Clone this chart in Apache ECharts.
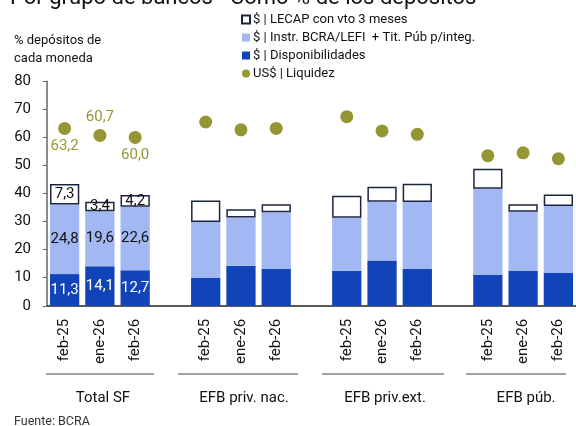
<!DOCTYPE html>
<html>
<head>
<meta charset="utf-8">
<script src="https://cdn.jsdelivr.net/npm/echarts@6/dist/echarts.min.js"></script>
<style>
  html, body { margin: 0; padding: 0; background: #fff; }
  #chart { width: 576px; height: 426px; }
</style>
</head>
<body>
<div id="chart"></div>
<script>
// grupos y periodos
const groups = ['Total SF', 'EFB priv. nac.', 'EFB priv.ext.', 'EFB púb.'];
const periods = ['feb-25', 'ene-26', 'feb-26'];

// valores (% depositos de cada moneda)
const disp  = [[11.3, 14.1, 12.7], [9.9, 14.3, 13.1], [12.5, 16.1, 13.1], [11.0, 12.4, 11.7]];
const instr = [[24.8, 19.6, 22.6], [20.0, 17.2, 20.2], [18.9, 21.0, 23.9], [30.7, 21.1, 23.9]];
const lecap = [[7.3, 3.4, 4.2], [7.6, 2.9, 2.9], [7.8, 5.3, 6.5], [7.1, 2.7, 4.1]];
const usd   = [[63.2, 60.7, 60.0], [65.5, 62.7, 63.2], [67.4, 62.3, 61.1], [53.5, 54.5, 52.4]];

const yTicks = [0, 10, 20, 30, 40, 50, 60, 70, 80];
const usdLabelPos = ['bottom', 'top', 'bottom'];

const FONT = 'Roboto';
const fmt = v => Number(v).toFixed(1).replace('.', ',');

// arma las 15 posiciones (3 por grupo + hueco entre grupos)
function spread(arr, mapFn) {
  const out = [];
  arr.forEach((g, gi) => {
    g.forEach((v, pi) => out.push(mapFn ? mapFn(v, gi, pi) : v));
    if (gi < arr.length - 1) out.push('-');
  });
  return out;
}
const cats = spread(groups.map(() => periods));
const groupCats = spread(groups.map(g => ['', g, '']));

const withLabel = (v, gi) => gi === 0 ? { value: v, label: { show: true } } : v;

var chart = echarts.init(document.getElementById('chart'));
var option = {
  animation: false,
  textStyle: { fontFamily: FONT },
  grid: { left: 47, right: 0, top: 81.3, bottom: 120.2, containLabel: false },
  legend: {
    orient: 'vertical',
    left: 236,
    top: 8,
    itemWidth: 8,
    itemHeight: 8,
    itemGap: 5,
    textStyle: { fontFamily: FONT, fontSize: 13, color: '#111', padding: [0, 0, 0, -2] },
    data: [
      { name: '$ | LECAP con vto 3 meses', icon: 'rect' },
      { name: '$ | Instr. BCRA/LEFI  + Tit. Púb p/integ.', icon: 'rect' },
      { name: '$ | Disponibilidades', icon: 'rect' },
      { name: 'US$ | Liquidez', icon: 'circle' }
    ]
  },
  xAxis: [{
    type: 'category',
    data: cats.map(c => c === '-' ? '' : c),
    axisLine: { lineStyle: { color: '#222', width: 1.5 } },
    axisTick: { show: false },
    axisLabel: { rotate: 90, interval: 0, margin: 13, fontSize: 15, color: '#111', fontFamily: FONT }
  }, {
    type: 'category',
    position: 'bottom',
    offset: 81,
    data: groupCats.map(c => c === '-' ? '' : c),
    axisLine: { show: false },
    axisTick: { show: false },
    axisLabel: { interval: 0, fontSize: 15, color: '#111', fontFamily: FONT, margin: 4, padding: [0, 0, 0, 6] }
  }],
  yAxis: {
    type: 'value',
    min: yTicks[0],
    max: yTicks[yTicks.length - 1],
    interval: 10,
    splitLine: { show: false },
    axisLine: { show: true, lineStyle: { color: '#666', width: 1.5 } },
    axisTick: { show: true, length: 4, lineStyle: { color: '#666' } },
    axisLabel: { fontSize: 15, color: '#111', margin: 16, fontFamily: FONT }
  },
  series: [{
    name: '$ | Disponibilidades',
    type: 'bar',
    stack: 'pesos',
    barCategoryGap: '17%',
    itemStyle: { color: '#1144b8' },
    label: { show: false, position: 'inside', color: '#fff', fontSize: 15, formatter: p => fmt(p.value) },
    data: spread(disp, withLabel)
  }, {
    name: '$ | Instr. BCRA/LEFI  + Tit. Púb p/integ.',
    type: 'bar',
    stack: 'pesos',
    itemStyle: { color: '#a2b8f2' },
    label: { show: false, position: 'inside', color: '#111', fontSize: 15, formatter: p => fmt(p.value) },
    data: spread(instr, withLabel)
  }, {
    name: '$ | LECAP con vto 3 meses',
    type: 'bar',
    stack: 'pesos',
    itemStyle: { color: '#fff', borderColor: '#1c2540', borderWidth: 1.5 },
    label: { show: false, position: 'inside', color: '#111', fontSize: 15, formatter: p => fmt(p.value) },
    data: spread(lecap, withLabel)
  }, {
    name: 'US$ | Liquidez',
    type: 'scatter',
    symbol: 'circle',
    symbolSize: 13,
    itemStyle: { color: '#7a7a00' },
    label: { show: false, color: '#7a7a00', fontSize: 15, distance: 4, formatter: p => fmt(p.value) },
    data: spread(usd, (v, gi, pi) => gi === 0 ? { value: v, label: { show: true, position: usdLabelPos[pi] } } : v)
  }],
  graphic: [
    { type: 'text', left: 10, top: -13, style: { text: 'Por grupo de bancos - Como % de los depósitos', font: '22px Roboto', fill: '#111' } },
    { type: 'text', left: 14, top: 32, style: { text: '% depósitos de\ncada moneda', font: '13px Roboto', lineHeight: 18, fill: '#111' } },
    { type: 'text', left: 14, top: 415, style: { text: 'Fuente: BCRA', font: '12.5px Roboto', fill: '#333' } },
    { type: 'line', shape: { x1: 46, y1: 374, x2: 154, y2: 374 }, style: { stroke: '#444', lineWidth: 1 } },
    { type: 'line', shape: { x1: 178, y1: 374, x2: 298, y2: 374 }, style: { stroke: '#444', lineWidth: 1 } },
    { type: 'line', shape: { x1: 322, y1: 374, x2: 444, y2: 374 }, style: { stroke: '#444', lineWidth: 1 } },
    { type: 'line', shape: { x1: 466, y1: 374, x2: 566, y2: 374 }, style: { stroke: '#444', lineWidth: 1 } }
  ]
};
chart.setOption(option);
</script>
</body>
</html>
